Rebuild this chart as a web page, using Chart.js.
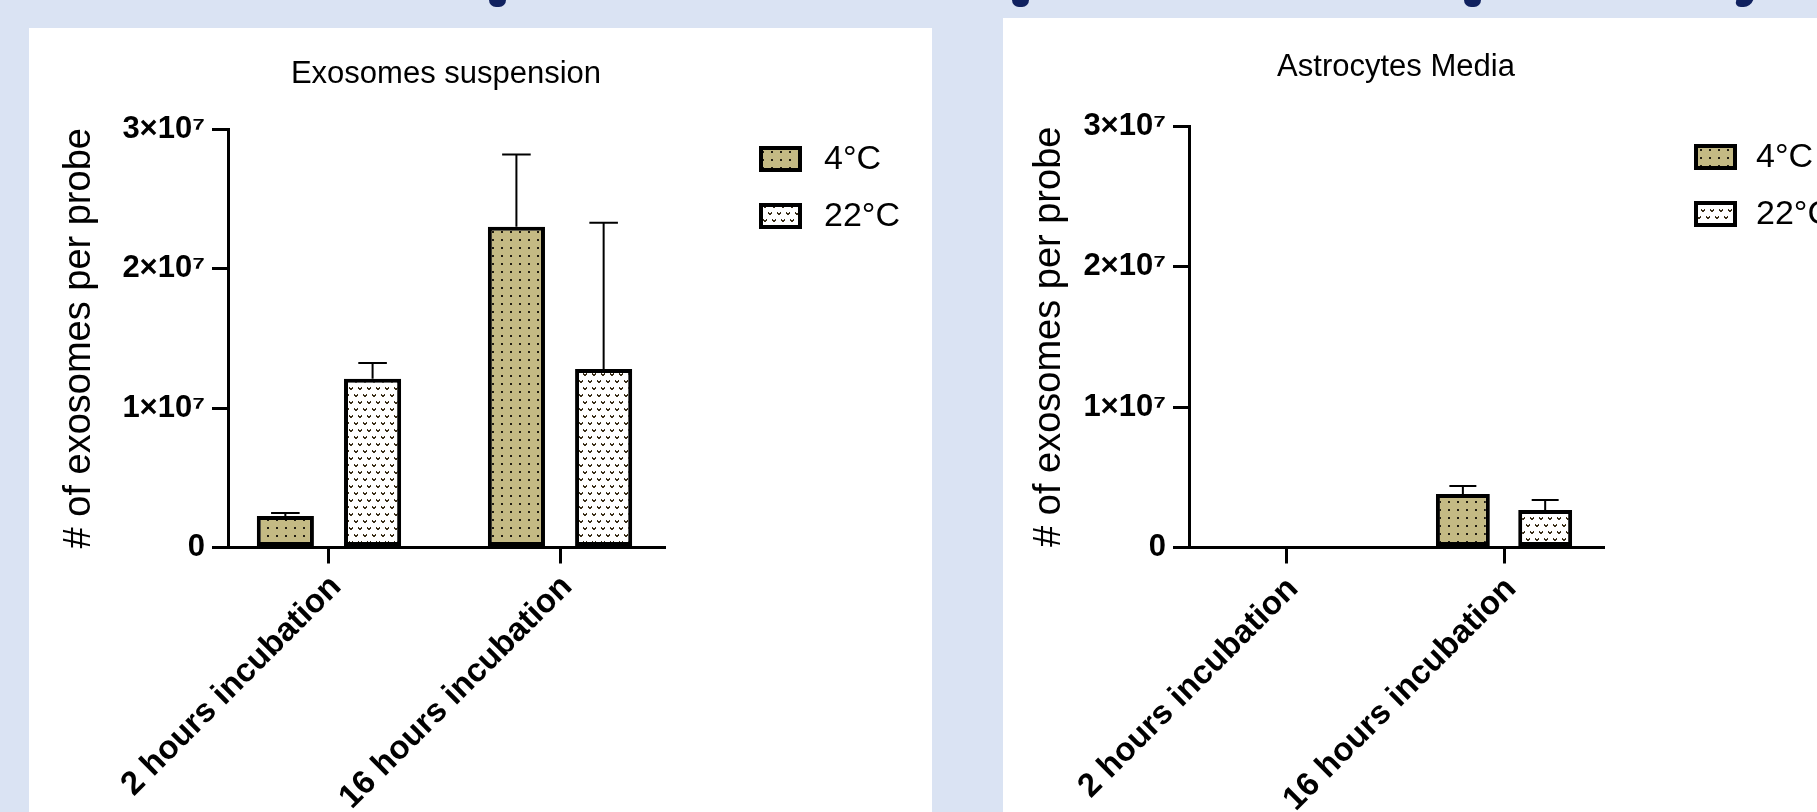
<!DOCTYPE html>
<html><head><meta charset="utf-8">
<script src="https://cdn.jsdelivr.net/npm/chart.js@4.4.1/dist/chart.umd.min.js"></script>
<style>
html,body{margin:0;padding:0;background:#dae3f3;width:1817px;height:812px;overflow:hidden;position:relative;}
.panel{position:absolute;background:#fff;overflow:hidden;}
#pl{left:29px;top:28px;width:903px;height:784px;}
#pr{left:1003px;top:18px;width:814px;height:794px;}
.mark{position:absolute;top:0;width:17px;height:7px;background:#10215f;border-radius:0 0 8px 8px;}
canvas{display:block;}
</style></head><body>
<div class="mark" style="left:489px"></div>
<div class="mark" style="left:1012px"></div>
<div class="mark" style="left:1464px"></div>
<div class="mark" style="left:1735px;transform:skewX(-20deg)"></div>
<div class="panel" id="pl"><canvas id="cl" width="903" height="784"></canvas></div>
<div class="panel" id="pr"><canvas id="cr" width="814" height="794"></canvas></div>
<script>
const categories = ['2 hours incubation', '16 hours incubation'];
const seriesNames = ['4°C', '22°C'];
const yTickValues = [0, 1e7, 2e7, 3e7];
const yTickLabels = ['0', '1×10⁷', '2×10⁷', '3×10⁷'];
const yTitle = '# of exosomes per probe';
const panelTitles = ['Exosomes suspension', 'Astrocytes Media'];

const exoMean4C = [2.26e6, 2.30e7];
const exoErr4C = [0.21e6, 0.517e7];
const exoMean22C = [1.209e7, 1.280e7];
const exoErr22C = [0.114e7, 1.048e7];

const astroMean4C = [0, 3.81e6];
const astroErr4C = [0, 0.57e6];
const astroMean22C = [0, 2.67e6];
const astroErr22C = [0, 0.71e6];

Chart.defaults.font.family = "'Liberation Sans', Arial, Helvetica, sans-serif";
Chart.defaults.color = '#000';

function makePatterns() {
  const t1 = document.createElement('canvas'); t1.width = 9; t1.height = 8;
  const g1 = t1.getContext('2d');
  g1.fillStyle = '#c4ba84'; g1.fillRect(0, 0, 9, 8);
  g1.fillStyle = '#221e12'; g1.fillRect(4, 3, 2, 2);
  const t2 = document.createElement('canvas'); t2.width = 18; t2.height = 14;
  const g2 = t2.getContext('2d');
  g2.fillStyle = '#ffffff'; g2.fillRect(0, 0, 18, 14);
  g2.fillStyle = '#3a2e18';
  const v = (x, y) => { g2.fillRect(x, y, 1, 2); g2.fillRect(x + 3, y, 1, 2); g2.fillRect(x + 1, y + 1, 2, 2); };
  v(1, 2); v(10, 2); v(5, 9); v(14, 9);
  const h = document.createElement('canvas').getContext('2d');
  return [h.createPattern(t1, 'repeat'), h.createPattern(t2, 'repeat')];
}
const patterns = makePatterns();

const errorBarPlugin = {
  id: 'errorBars',
  afterDatasetsDraw(chart) {
    const ctx = chart.ctx, ys = chart.scales.y;
    ctx.save();
    ctx.strokeStyle = '#000'; ctx.lineWidth = 2;
    chart.data.datasets.forEach((ds, di) => {
      const meta = chart.getDatasetMeta(di);
      meta.data.forEach((bar, i) => {
        const m = ds.data[i].y, e = ds.err[i];
        if (!e) return;
        const yTop = ys.getPixelForValue(m + e);
        const half = bar.width / 4;
        ctx.beginPath();
        ctx.moveTo(bar.x, bar.y); ctx.lineTo(bar.x, yTop);
        ctx.moveTo(bar.x - half, yTop); ctx.lineTo(bar.x + half, yTop);
        ctx.stroke();
      });
    });
    ctx.restore();
  }
};

function legendPlugin(geo) {
  return {
    id: 'customLegend',
    afterDraw(chart) {
      const ctx = chart.ctx;
      ctx.save();
      chart.data.datasets.forEach((ds, i) => {
        const y = geo.legendY[i];
        ctx.fillStyle = '#000';
        ctx.fillRect(geo.legendX, y, 43, 26);
        ctx.fillStyle = ds.backgroundColor;
        ctx.fillRect(geo.legendX + 4, y + 4, 35, 18);
        ctx.fillStyle = '#000';
        ctx.font = "34px 'Liberation Sans', Arial, sans-serif";
        ctx.textBaseline = 'middle'; ctx.textAlign = 'left';
        ctx.fillText(ds.label, geo.legendTextX, y + 14);
      });
      ctx.restore();
    }
  };
}

function buildChart(canvasId, titleText, m4, e4, m22, e22, geo) {
  const datasets = [
    { label: seriesNames[0], data: categories.map((c, i) => ({ x: i + 1, y: m4[i] })), err: e4,
      backgroundColor: patterns[0], borderColor: '#000', borderWidth: 4, borderSkipped: false },
    { label: seriesNames[1], data: categories.map((c, i) => ({ x: i + 1, y: m22[i] })), err: e22,
      backgroundColor: patterns[1], borderColor: '#000', borderWidth: 4, borderSkipped: false }
  ];
  return new Chart(document.getElementById(canvasId), {
    type: 'bar',
    data: { datasets },
    options: {
      responsive: false, animation: false, devicePixelRatio: 1,
      categoryPercentage: 0.755, barPercentage: 0.655,
      layout: { padding: { left: 0, top: 0, right: geo.padRight, bottom: 0 } },
      plugins: {
        legend: { display: false }, tooltip: { enabled: false },
        title: { display: true, text: titleText, fullSize: false, color: '#000',
          font: { size: 31, weight: 'normal' }, padding: { top: geo.titleTop, bottom: geo.titleBottom } }
      },
      scales: {
        x: {
          type: 'linear', min: geo.xMin, max: geo.xMax, offset: false,
          afterBuildTicks: s => { s.ticks = categories.map((c, i) => ({ value: i + 1 })); },
          afterFit: s => { s.height = geo.xHeight; s.paddingLeft = 0; s.paddingRight = 0; },
          grid: { offset: false, drawOnChartArea: false, drawTicks: true, tickLength: 16, lineWidth: 3, color: '#000' },
          border: { display: true, width: 3, color: '#000' },
          ticks: { autoSkip: false, maxRotation: 45, minRotation: 45, padding: geo.xPad, labelOffset: 7, color: '#000',
            font: { size: 33, weight: 'bold' }, callback: v => categories[v - 1] }
        },
        y: {
          type: 'linear', min: 0, max: 3e7,
          afterBuildTicks: s => { s.ticks = yTickValues.map(v => ({ value: v })); },
          afterFit: s => { s.width = geo.yWidth; s.paddingTop = 0; s.paddingBottom = 0; },
          grid: { drawOnChartArea: false, drawTicks: true, tickLength: 16, lineWidth: 3, color: '#000' },
          border: { display: true, width: 3, color: '#000' },
          ticks: { padding: 7, color: '#000', font: { size: 31, weight: 'bold' },
            callback: v => yTickLabels[yTickValues.indexOf(v)] },
          title: { display: true, text: yTitle, color: '#000', font: { size: 38, weight: 'normal' },
            padding: { top: geo.yTitlePad, bottom: 0 } }
        }
      }
    },
    plugins: [errorBarPlugin, legendPlugin(geo)]
  });
}

buildChart('cl', panelTitles[0], exoMean4C, exoErr4C, exoMean22C, exoErr22C, {
  padRight: 268, titleTop: 28, titleBottom: 35.8, xMin: 0.563, xMax: 2.45, xHeight: 264.5, xPad: 4,
  yWidth: 199, yTitlePad: 28.2, legendX: 730, legendY: [118, 175], legendTextX: 795
});
buildChart('cr', panelTitles[1], astroMean4C, astroErr4C, astroMean22C, astroErr22C, {
  padRight: 214, titleTop: 30.4, titleBottom: 40.4, xMin: 0.555, xMax: 2.454, xHeight: 264.5, xPad: 6,
  yWidth: 186, yTitlePad: 24.2, legendX: 691, legendY: [126, 183], legendTextX: 753
});
</script>
</body></html>
